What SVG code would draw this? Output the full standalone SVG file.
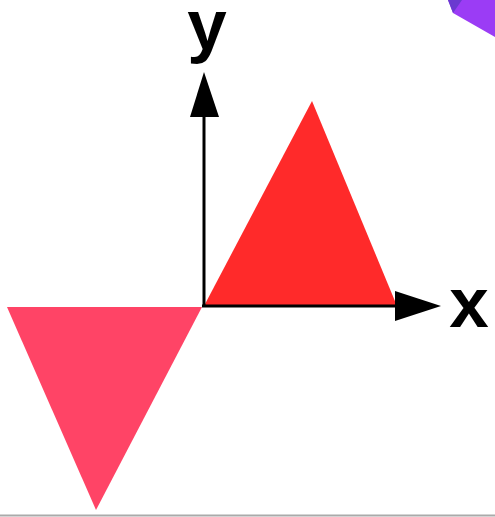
<svg xmlns="http://www.w3.org/2000/svg" width="495" height="517" viewBox="0 0 495 517">
<style>
.axis{stroke:#000;stroke-width:3;fill:none}
.lbl{font-family:"Liberation Sans",Arial,sans-serif;font-weight:bold;font-size:71px;fill:#000}
</style>
<rect width="495" height="517" fill="#fff"/>
<g id="purple">
<polygon points="448,0 495,0 495,37 453,13" fill="#9b3cf5"/>
<polygon points="448,0 462,0 453,13" fill="#6a3ad0"/>
</g>
<g id="triangle-red"><polygon points="204,306 312,101 397,306" fill="#ff2a2a"/></g>
<g id="triangle-pink"><polygon points="7,307 202,307 96,510" fill="#ff4466"/></g>
<g id="connectors">
<line class="axis" x1="204" y1="307" x2="204" y2="112"/>
<polygon points="204,72 190,117 219,117" fill="#000"/>
<line class="axis" x1="202" y1="306" x2="400" y2="306"/>
<polygon points="441,306 395,291 395,321" fill="#000"/>
</g>
<g id="label-y"><text class="lbl" x="207" y="49" text-anchor="middle">y</text></g>
<g id="label-x"><text class="lbl" x="469" y="327" text-anchor="middle">x</text></g>
<line x1="0" y1="515.5" x2="495" y2="515.5" stroke="#aaa" stroke-width="2"/>
</svg>
